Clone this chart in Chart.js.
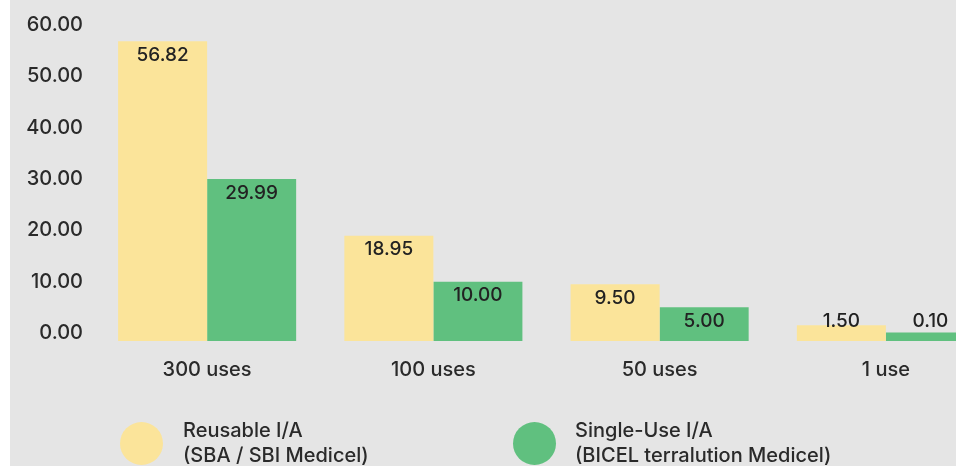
<!DOCTYPE html>
<html>
<head>
<meta charset="utf-8">
<script src="https://cdn.jsdelivr.net/npm/chart.js@4.4.0/dist/chart.umd.min.js"></script>
<style>
  html, body { margin: 0; padding: 0; background: #fff; overflow: hidden; width: 956px; height: 466px; }
  #wrap { position: absolute; left: 10px; top: 0; width: 1000px; height: 466px; background: #e5e5e5; }
  #chart { position: absolute; left: 0; top: 0; }
  .leg { position: absolute; top: 418px; font-family: Inter, sans-serif; font-weight: 500; font-size: 20px; line-height: 25px; color: #2a2a2a; }
  .leg .dot { position: absolute; width: 43px; height: 43px; border-radius: 50%; top: 4px; }
  .leg .txt { position: absolute; white-space: nowrap; }
</style>
</head>
<body>
<div id="wrap">
  <canvas id="chart" width="1000" height="466"></canvas>
</div>
<script>
const categories = ['300 uses', '100 uses', '50 uses', '1 use'];
const reusable = [56.82, 18.95, 9.50, 1.50];
const singleUse = [29.99, 10.00, 5.00, 0.10];
const reusableLabel = ['Reusable I/A', '(SBA / SBI Medicel)'];
const singleUseLabel = ['Single-Use I/A', '(BICEL terralution Medicel)'];
const yTicks = [0, 10, 20, 30, 40, 50, 60];
const yFloor = -1.56; // bars start a little below the 0.00 tick

const FONT = 'Inter, sans-serif';
const YELLOW = '#fbe49a';
const GREEN = '#60c07f';

// values written at the top of each bar (or just above short bars)
const valueLabels = {
  id: 'valueLabels',
  afterDatasetsDraw(chart){
    const ctx = chart.ctx;
    ctx.save();
    ctx.font = '500 19px ' + FONT;
    ctx.fillStyle = '#222';
    ctx.textAlign = 'center';
    ctx.textBaseline = 'middle';
    chart.data.datasets.forEach(function(ds, i){
      chart.getDatasetMeta(i).data.forEach(function(bar, j){
        const y = Math.min(bar.y + 14, bar.base - 20);
        ctx.fillText(ds.data[j].toFixed(2), bar.x, y);
      });
    });
    ctx.restore();
  }
};

const chart = new Chart(document.getElementById('chart'), {
  type: 'bar',
  data: {
    labels: categories,
    datasets: [
      { label: reusableLabel, data: reusable, backgroundColor: YELLOW, base: yFloor },
      { label: singleUseLabel, data: singleUse, backgroundColor: GREEN, base: yFloor }
    ]
  },
  options: {
    responsive: false,
    animation: false,
    layout: { padding: { left: 0, right: 11, top: 25, bottom: 85 } },
    categoryPercentage: 0.787,
    barPercentage: 1,
    plugins: { legend: { display: false }, tooltip: { enabled: false } },
    scales: {
      x: {
        grid: { display: false, drawTicks: false },
        border: { display: false },
        ticks: { padding: 17, color: '#2a2a2a', font: { family: FONT, size: 20, weight: 500 } },
        afterFit: function(scale){ scale.height = 40; }
      },
      y: {
        min: yFloor,
        max: 60,
        afterBuildTicks: function(scale){ scale.ticks = yTicks.map(v => ({ value: v })); },
        grid: { display: false, drawTicks: false },
        border: { display: false },
        ticks: {
          padding: 11,
          color: '#2a2a2a',
          font: { family: FONT, size: 20, weight: 500 },
          callback: function(v){ return Number(v).toFixed(2); }
        },
        afterFit: function(scale){ scale.width = 84; }
      }
    }
  },
  plugins: [valueLabels]
});

// html legend with two-line labels
const legendPos = [{ dot: 110, txt: 173 }, { dot: 503, txt: 565 }];
chart.data.datasets.forEach(function(ds, i){
  const item = document.createElement('div');
  item.className = 'leg';
  item.style.left = '0px';
  const dot = document.createElement('div');
  dot.className = 'dot';
  dot.style.left = legendPos[i].dot + 'px';
  dot.style.background = ds.backgroundColor;
  const txt = document.createElement('div');
  txt.className = 'txt';
  txt.style.left = legendPos[i].txt + 'px';
  txt.innerHTML = ds.label.join('<br>');
  item.appendChild(dot);
  item.appendChild(txt);
  document.getElementById('wrap').appendChild(item);
});
</script>
</body>
</html>
